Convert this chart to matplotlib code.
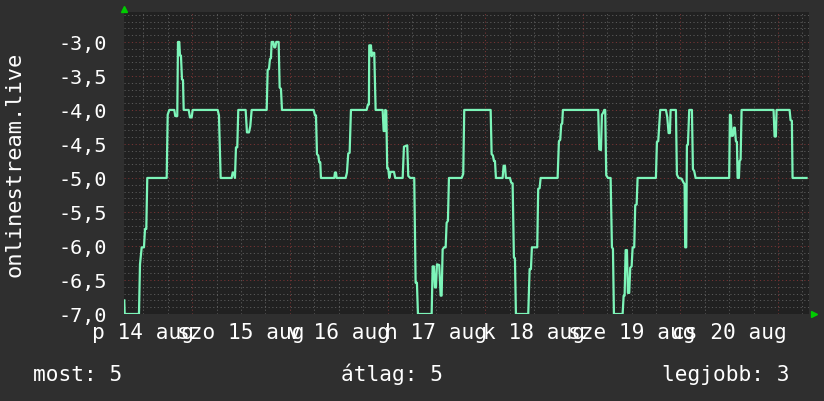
import numpy as np
import matplotlib
matplotlib.use('Agg')
import matplotlib.pyplot as plt

# hours since 14 aug 00:00 and values
hours = [7.3, 7.4, 10.91, 11.16, 11.58, 12.14, 12.39, 12.71, 12.95, 17.72, 17.97, 18.36,
         19.59, 19.83, 20.32, 20.50, 20.82, 20.99, 21.23, 21.48, 21.73, 21.90, 23.13, 23.45,
         23.86, 24.11, 30.25, 30.57, 30.99, 33.69, 33.94, 34.26, 34.50, 34.75, 35.07, 35.32,
         37.13, 37.45, 37.95, 38.27, 38.61, 42.30, 42.54, 42.86, 43.11, 43.35, 43.52, 43.92,
         44.16, 44.41, 44.66, 45.24, 45.49, 45.81, 46.06, 53.85, 54.17, 54.42, 54.66, 54.98,
         55.22, 55.47, 55.64, 58.91, 59.08, 59.33, 59.50, 61.71, 62.03, 62.35, 62.69, 63.01,
         66.87, 67.19, 67.43, 67.51, 67.93, 68.10, 68.35, 68.74, 69.08, 70.80, 71.05, 71.30,
         71.44, 71.69, 71.93, 72.18, 72.43, 72.77, 73.58, 73.90, 75.72, 76.04, 76.85, 77.10,
         77.59, 78.57, 78.91, 79.23, 79.48, 82.85, 83.09, 83.41, 83.66, 83.91, 84.15, 84.71,
         85.06, 85.30, 85.55, 85.94, 86.29, 86.53, 86.85, 87.10, 90.22, 90.61, 90.86,
         97.35, 97.59, 97.91, 98.16, 98.41, 98.65, 100.29, 100.54, 100.86, 101.10, 102.09,
         102.41, 102.75, 103.07, 103.32, 103.56, 106.59, 106.93, 107.25, 107.49, 108.80,
         109.04, 109.39, 109.63, 113.81, 114.13, 114.45, 114.70, 114.94, 115.11,
         123.79, 124.04, 124.46, 124.70, 125.02, 125.27, 125.51, 125.76, 126.18, 126.84,
         127.16, 127.41, 127.65, 129.79, 130.04, 130.28, 130.53, 130.85, 131.09, 131.41,
         131.66, 132.00, 132.25, 132.64, 132.89, 133.23, 133.47, 137.97, 138.22, 138.54,
         138.78, 139.03, 140.43, 140.75, 141.09, 141.41, 141.58, 142.89, 143.13, 143.55,
         144.28, 144.77, 145.02, 145.17, 145.42, 145.59, 145.84, 146.16, 146.82, 147.07,
         147.39, 147.73, 155.98, 156.16, 156.40, 156.57, 156.89, 157.14, 157.38, 157.63,
         157.88, 158.05, 158.37, 158.54, 158.79, 159.03, 166.89, 167.14, 167.46, 167.63,
         170.83, 171.07, 171.39, 171.56, 175.00]
vals = [-6.80, -7.0, -7.0, -6.27, -6.02, -6.02, -5.75, -5.75, -5.0, -5.0, -4.07, -4.0,
        -4.0, -4.09, -4.09, -3.0, -3.0, -3.2, -3.2, -3.55, -3.56, -4.0, -4.0, -4.11,
        -4.11, -4.0, -4.0, -4.08, -5.0, -5.0, -4.92, -4.92, -5.0, -4.55, -4.55, -4.0,
        -4.0, -4.33, -4.33, -4.24, -4.0, -4.0, -3.41, -3.40, -3.25, -3.24, -3.0, -3.0,
        -3.08, -3.08, -3.0, -3.0, -3.67, -3.69, -4.0, -4.0, -4.08, -4.08, -4.65, -4.67,
        -4.77, -4.77, -5.0, -5.0, -4.92, -4.92, -5.0, -5.0, -4.92, -4.64, -4.63, -4.0,
        -4.0, -3.92, -3.92, -3.05, -3.05, -3.21, -3.16, -3.16, -4.0, -4.0, -4.31, -4.31,
        -4.0, -4.01, -4.86, -4.86, -5.0, -4.91, -4.91, -5.0, -5.0, -4.54, -4.52, -4.97,
        -5.0, -5.0, -6.54, -6.54, -7.0, -7.0, -6.30, -6.30, -6.61, -6.61, -6.27, -6.28,
        -6.73, -6.73, -6.05, -6.02, -6.02, -5.66, -5.63, -5.0, -5.0, -4.94, -4.0,
        -4.0, -4.65, -4.67, -4.75, -4.75, -5.0, -5.0, -4.82, -4.82, -5.0, -5.0,
        -5.07, -5.08, -6.17, -6.18, -7.0, -7.0, -6.34, -6.34, -6.02, -6.02,
        -5.16, -5.15, -5.0, -5.0, -4.46, -4.44, -4.21, -4.20, -4.0,
        -4.0, -4.58, -4.59, -4.07, -4.04, -4.0, -4.0, -4.96, -5.0, -5.0,
        -6.02, -6.04, -7.0, -7.0, -6.73, -6.73, -6.06, -6.06, -6.69, -6.69,
        -6.32, -6.30, -6.02, -6.02, -5.40, -5.39, -5.0, -5.0, -4.47, -4.46,
        -4.23, -4.0, -4.0, -4.10, -4.34, -4.34, -4.0, -4.0, -4.95, -5.0,
        -5.01, -5.07, -5.09, -6.02, -6.02, -4.52, -4.51, -4.0, -4.0, -4.87,
        -4.90, -5.0, -5.0, -4.07, -4.08, -4.38, -4.38, -4.26, -4.26, -4.46,
        -4.47, -5.0, -5.0, -4.75, -4.73, -4.0, -4.0, -4.39, -4.39, -4.0,
        -4.0, -4.15, -4.16, -5.0, -5.0]

day_labels = ['p 14 aug', 'szo 15 aug', 'v 16 aug', 'h 17 aug', 'k 18 aug', 'sze 19 aug', 'cs 20 aug']
y_ticks = [-3.0, -3.5, -4.0, -4.5, -5.0, -5.5, -6.0, -6.5, -7.0]
legend = [('most: 5', 0.040), ('átlag: 5', 0.414), ('legjobb: 3', 0.8035)]

canvas = '#2f2f2f'
back = '#212121'
line_col = '#7df5b9'
minor_col = '#5a5a5a'
major_col = '#763434'
mono = 'DejaVu Sans Mono'

fig = plt.figure(figsize=(8.24, 4.02), dpi=100, facecolor=canvas)
ax = fig.add_axes([124 / 824, 1 - 315 / 402, (809 - 124) / 824, (315 - 13) / 402])
ax.set_facecolor(back)
ax.set_xlim(7.23, 175.6)
ax.set_ylim(-7.0, -2.56)

dots = (0, (1.2, 2.6))
for y in np.arange(-7.0, -2.55, 0.1):
    major = abs(y * 2 - round(y * 2)) < 1e-6
    ax.axhline(y, color=major_col if major else minor_col, lw=0.7, ls=dots, zorder=1)
for h in range(12, 176, 6):
    ax.axvline(h, color=major_col if h % 24 == 0 else minor_col, lw=0.7, ls=dots, zorder=1)

ax.plot(hours, vals, color=line_col, lw=1.6, zorder=3)

ax.set_yticks(y_ticks)
ax.set_yticklabels([f'{v:.1f}'.replace('.', ',') for v in y_ticks])
ax.set_xticks([12 + 24 * i for i in range(len(day_labels))])
ax.set_xticklabels(day_labels)
ax.tick_params(axis='both', length=0, colors='white')
ax.tick_params(axis='y', pad=12, labelsize=14.5)
ax.tick_params(axis='x', pad=6, labelsize=15.2)
for lab in ax.get_xticklabels() + ax.get_yticklabels():
    lab.set_fontfamily(mono)
for s in ax.spines.values():
    s.set_visible(False)

# little green arrows at the axis ends
ax.plot([0], [1.01], marker='^', color='#00cc00', ms=5, transform=ax.transAxes, clip_on=False)
ax.plot([1.008], [0], marker='>', color='#00cc00', ms=5, transform=ax.transAxes, clip_on=False)

fig.text(0.017, 0.59, 'onlinestream.live', rotation=90, ha='center', va='center',
         color='white', fontsize=15.8, family=mono)
for txt, x in legend:
    fig.text(x, 0.052, txt, ha='left', va='baseline', color='white', fontsize=15.2, family=mono)

fig.savefig('out.png', dpi=100, facecolor=canvas)
